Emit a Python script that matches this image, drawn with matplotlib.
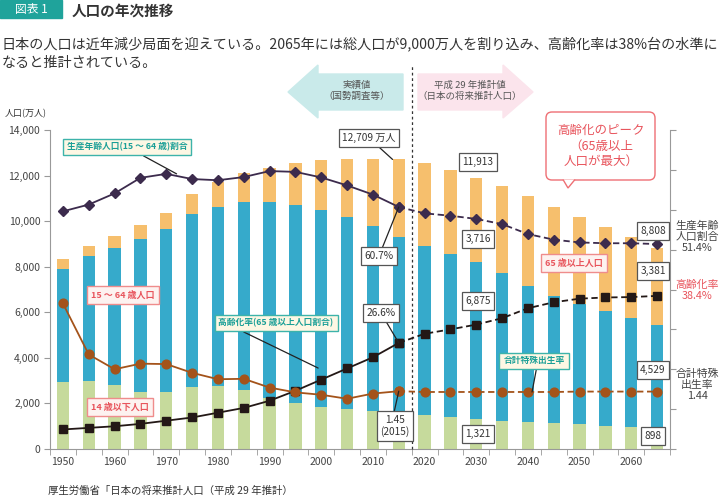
import matplotlib
matplotlib.use("Agg")
import matplotlib.pyplot as plt
from matplotlib.patches import Polygon, FancyBboxPatch, Rectangle
import numpy as np

plt.rcParams['font.family'] = ['Noto Sans CJK JP', 'DejaVu Sans']

# 人口(万人) 1950-2015 実績, 2020-2065 推計
years = [1950, 1955, 1960, 1965, 1970, 1975, 1980, 1985, 1990, 1995, 2000, 2005, 2010, 2015,
         2020, 2025, 2030, 2035, 2040, 2045, 2050, 2055, 2060, 2065]
pop_0_14 = [2943, 2980, 2807, 2517, 2482, 2722, 2751, 2603, 2249, 2001, 1847, 1752, 1680, 1595,
            1507, 1407, 1321, 1246, 1194, 1138, 1077, 1012, 951, 898]
pop_15_64 = [4966, 5473, 6000, 6693, 7157, 7581, 7883, 8251, 8590, 8716, 8622, 8409, 8103, 7728,
             7406, 7170, 6875, 6494, 5978, 5584, 5275, 5028, 4793, 4529]
pop_65_over = [411, 475, 535, 618, 733, 887, 1065, 1247, 1489, 1826, 2204, 2576, 2925, 3387,
               3619, 3677, 3716, 3782, 3921, 3919, 3841, 3704, 3540, 3381]
# 生産年齢人口割合(%), 高齢化率(%), 合計特殊出生率
working_ratio = [59.6, 61.3, 64.1, 68.0, 69.0, 67.7, 67.4, 68.2, 69.7, 69.5, 68.1, 66.1, 63.8, 60.7,
                 59.1, 58.5, 57.7, 56.4, 53.9, 52.5, 51.8, 51.6, 51.6, 51.4]
aging_rate = [4.9, 5.3, 5.7, 6.3, 7.1, 7.9, 9.1, 10.3, 12.1, 14.6, 17.4, 20.2, 23.0, 26.6,
              28.9, 30.0, 31.2, 32.8, 35.3, 36.8, 37.7, 38.0, 38.1, 38.4]
fertility = [3.65, 2.37, 2.00, 2.14, 2.13, 1.91, 1.75, 1.76, 1.54, 1.42, 1.36, 1.26, 1.39, 1.45,
             1.43, 1.43, 1.43, 1.43, 1.43, 1.43, 1.44, 1.44, 1.44, 1.44]
label_years = [1950, 1960, 1970, 1980, 1990, 2000, 2010, 2020, 2030, 2040, 2050, 2060]
n_actual = 14

GREEN, BLUE, ORANGE = '#c6da9c', '#36aacb', '#f6bf6d'
C_WORK, C_AGE, C_FERT = '#3c2b4d', '#231816', '#a4531a'
TEAL, RED = '#1a9f97', '#e8545c'

W, H = 728, 503
fig = plt.figure(figsize=(W / 100, H / 100), dpi=100)


def fx(px):
    return px / W


def fy(py):
    return 1 - py / H


ax = fig.add_axes([fx(50), fy(449), 620 / W, 319 / H])
bw = 2.4
ax.bar(years, pop_0_14, width=bw, color=GREEN, zorder=2)
ax.bar(years, pop_15_64, width=bw, bottom=pop_0_14, color=BLUE, zorder=2)
bot2 = np.array(pop_0_14) + np.array(pop_15_64)
ax.bar(years, pop_65_over, width=bw, bottom=bot2, color=ORANGE, zorder=2)

ax.set_xlim(1947.5, 2067.5)
ax.set_ylim(0, 14000)
ax.set_yticks(range(0, 14001, 2000))
ax.set_yticklabels([f'{v:,}' for v in range(0, 14001, 2000)], fontsize=7.5, color='#444')
ax.set_xticks(label_years)
ax.set_xticklabels([str(y) for y in label_years], fontsize=7.5, color='#444')
ax.set_xticks(np.arange(1947.5, 2068, 5), minor=True)
ax.tick_params(axis='x', which='major', length=0, pad=6)
ax.tick_params(axis='x', which='minor', length=4, color='#999')
ax.tick_params(axis='y', length=4, color='#999', pad=3)
for s in ['top', 'right']:
    ax.spines[s].set_visible(False)
for s in ['left', 'bottom']:
    ax.spines[s].set_color('#999')

ax.axvline(2017.5, ymin=0, ymax=(449 - 65) / 319, clip_on=False, color='#333',
           lw=0.9, ls=(0, (2.2, 2.2)), zorder=5)

# 割合の軸 (0-80%)
ax2 = ax.twinx()
ax2.set_ylim(0, 80)
ax2.set_yticks(range(0, 81, 10))
ax2.set_yticklabels([])
ax2.tick_params(axis='y', length=4, color='#999')
for s in ['top', 'left', 'bottom']:
    ax2.spines[s].set_visible(False)
ax2.spines['right'].set_color('#999')

# 出生率の軸 (0-8)
ax3 = ax.twinx()
ax3.set_ylim(0, 8)
ax3.axis('off')

dash = (0, (3.5, 2))
for axx, vals, col, mk, ms in [(ax3, fertility, C_FERT, 'o', 6.3),
                               (ax2, aging_rate, C_AGE, 's', 5.8),
                               (ax2, working_ratio, C_WORK, 'D', 5)]:
    axx.plot(years[:n_actual], vals[:n_actual], color=col, lw=1.3, marker=mk, ms=ms, zorder=4)
    axx.plot(years[n_actual - 1:], vals[n_actual - 1:], color=col, lw=1.3, ls=dash,
             marker=mk, ms=ms, zorder=4)

# 見出し
fig.patches.append(Rectangle((0, fy(18)), fx(62), 18 / H, transform=fig.transFigure,
                             color='#1fa39b'))
fig.text(fx(31), fy(10), '図表 1', ha='center', va='center', fontsize=8.5, color='white')
fig.text(fx(72), fy(11), '人口の年次推移', ha='left', va='center', fontsize=10.5,
         fontweight='bold', color='#333')
fig.text(fx(2), fy(44), '日本の人口は近年減少局面を迎えている。2065年には総人口が9,000万人を割り込み、高齢化率は38%台の水準に',
         ha='left', va='center', fontsize=10.15, color='#333')
fig.text(fx(2), fy(63), 'なると推計されている。', ha='left', va='center', fontsize=10.15, color='#333')
fig.text(fx(5), fy(114), '人口(万人)', ha='left', va='center', fontsize=6.5, color='#333')
fig.text(fx(48), fy(491), '厚生労働省「日本の将来推計人口（平成 29 年推計）', ha='left', va='center',
         fontsize=7.5, color='#333')

# 上部の矢印
left_arrow = [(288, 92), (318, 65), (318, 74), (403, 74), (403, 110), (318, 110), (318, 118)]
right_arrow = [(418, 74), (503, 74), (503, 65), (533, 92), (503, 118), (503, 110), (418, 110)]
for pts, col in [(left_arrow, '#c9eaea'), (right_arrow, '#fbe4ec')]:
    fig.patches.append(Polygon([(fx(a), fy(b)) for a, b in pts], closed=True,
                               transform=fig.transFigure, color=col, zorder=1))
fig.text(fx(357), fy(91), '実績値\n（国勢調査等）', ha='center', va='center', fontsize=6.8,
         color='#555', linespacing=1.35)
fig.text(fx(470), fy(91), '平成 29 年推計値\n（日本の将来推計人口）', ha='center', va='center',
         fontsize=6.8, color='#555', linespacing=1.35)

# 数値の枠
box = dict(boxstyle='square,pad=0.35', fc='white', ec='#555', lw=0.9)
line = dict(arrowstyle='-', color='#222', lw=0.9, shrinkA=0, shrinkB=0)
ax.annotate('12,709 万人', xy=(2013.8, 12709), xycoords='data', xytext=(fx(369), fy(138)),
            textcoords='figure fraction', ha='center', va='center', fontsize=7.3, color='#333',
            bbox=box, arrowprops=line, annotation_clip=False, zorder=6)
ax2.annotate('60.7%', xy=(2015, 60.7), xytext=(fx(379), fy(256)), textcoords='figure fraction',
             ha='center', va='center', fontsize=7.3, color='#333', bbox=box, arrowprops=line,
             annotation_clip=False, zorder=6)
ax2.annotate('26.6%', xy=(2015, 26.6), xytext=(fx(381), fy(313)), textcoords='figure fraction',
             ha='center', va='center', fontsize=7.3, color='#333', bbox=box, arrowprops=line,
             annotation_clip=False, zorder=6)
ax3.annotate('1.45\n(2015)', xy=(2015, 1.45), xytext=(fx(395), fy(426)), textcoords='figure fraction',
             ha='center', va='center', fontsize=7.3, color='#333', bbox=box,
             arrowprops=dict(line, relpos=(0.45, 1)), annotation_clip=False, zorder=6)
for txt, px, py in [('11,913', 478, 162), ('3,716', 478, 239), ('6,875', 478, 301),
                    ('1,321', 478, 434), ('8,808', 653, 231), ('3,381', 653, 271),
                    ('4,529', 653, 370), ('898', 653, 436)]:
    fig.text(fx(px), fy(py), txt, ha='center', va='center', fontsize=7.3, color='#333',
             bbox=dict(box, pad=0.4))

# 系列ラベル
teal_box = dict(boxstyle='square,pad=0.45', fc='#fdf7e4', ec='#3db3aa', lw=1)
red_box = dict(boxstyle='square,pad=0.45', fc='#fdf2f0', ec='#ef8c8c', lw=1)
tline = dict(arrowstyle='-', color='#222', lw=0.9, shrinkA=0, shrinkB=0)
ax2.annotate('生産年齢人口(15 ～ 64 歳)割合', xy=(1972, 69.0), xytext=(fx(127), fy(147)),
             textcoords='figure fraction', ha='center', va='center', fontsize=6.3,
             color=TEAL, fontweight='bold', bbox=teal_box,
             arrowprops=dict(tline, relpos=(0.57, 0)), annotation_clip=False, zorder=6)
ax2.annotate('高齢化率(65 歳以上人口割合)', xy=(1999.4, 20.3), xytext=(fx(276), fy(323)),
             textcoords='figure fraction', ha='center', va='center', fontsize=6.3,
             color=TEAL, fontweight='bold', bbox=teal_box,
             arrowprops=dict(tline, relpos=(0.14, 0)), annotation_clip=False, zorder=6)
ax3.annotate('合計特殊出生率', xy=(2040.8, 1.43), xytext=(fx(534), fy(361)),
             textcoords='figure fraction', ha='center', va='center', fontsize=6.3,
             color=TEAL, fontweight='bold', bbox=teal_box,
             arrowprops=dict(tline, relpos=(0.55, 0)), annotation_clip=False, zorder=6)
for txt, px, py in [('15 ～ 64 歳人口', 123, 295), ('14 歳以下人口', 120, 407),
                    ('65 歳以上人口', 574, 263)]:
    fig.text(fx(px), fy(py), txt, ha='center', va='center', fontsize=6.5, color=RED,
             fontweight='bold', bbox=red_box)

# 高齢化のピーク 吹き出し
r = 6
fig.patches.append(FancyBboxPatch((fx(546), fy(180)), fx(655) - fx(546), 68 / H,
                                  boxstyle=f'round,pad=0,rounding_size={r / W}',
                                  mutation_aspect=W / H, transform=fig.transFigure,
                                  fc='white', ec='#ee6f74', lw=1, zorder=6))
fig.patches.append(Polygon([(fx(563), fy(179.5)), (fx(568), fy(188)), (fx(575), fy(179.5))],
                           closed=False, transform=fig.transFigure, fc='white', ec='#ee6f74',
                           lw=1, zorder=6.1))
fig.text(fx(601), fy(146), '高齢化のピーク\n（65歳以上\n人口が最大）', ha='center', va='center',
         fontsize=9, color=RED, linespacing=1.25, zorder=7)

# 右側の注記
fig.text(fx(697), fy(237), '生産年齢\n人口割合\n51.4%', ha='center', va='center', fontsize=7.8,
         color='#444', linespacing=1.15)
fig.text(fx(697), fy(290), '高齢化率\n38.4%', ha='center', va='center', fontsize=7.8,
         color=RED, linespacing=1.15)
fig.text(fx(697), fy(385), '合計特殊\n出生率\n1.44', ha='center', va='center', fontsize=7.8,
         color='#444', linespacing=1.15)

fig.savefig('out.png', dpi=100)
